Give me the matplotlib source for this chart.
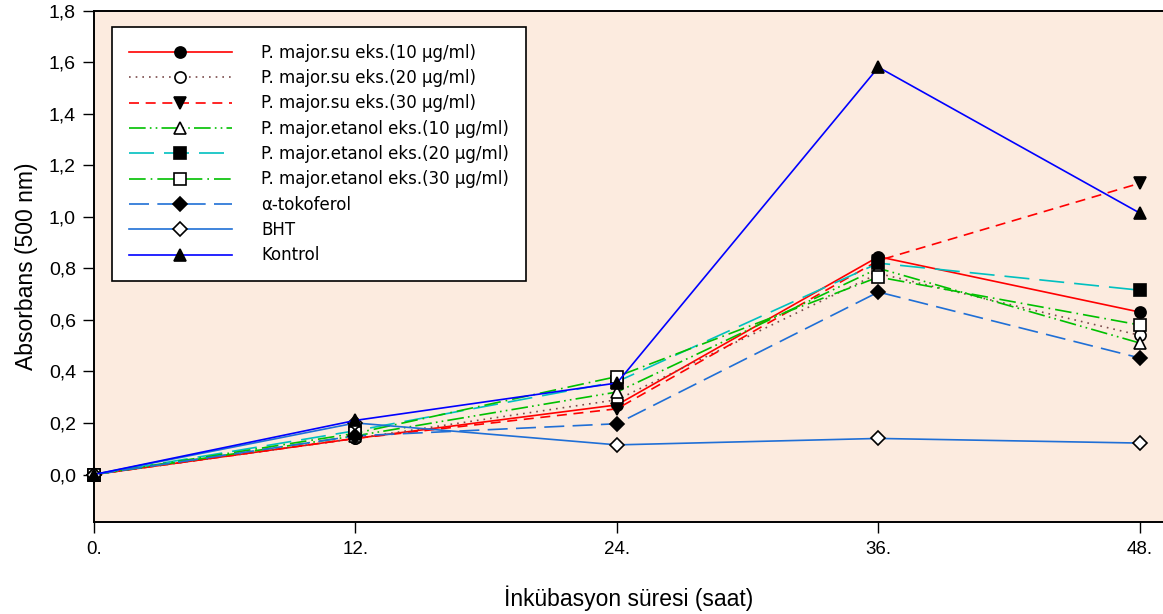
import matplotlib
matplotlib.use("Agg")
import matplotlib.pyplot as plt
from matplotlib.ticker import FuncFormatter

plt.rcParams['font.family'] = ['Liberation Sans', 'DejaVu Sans']

hours = [0, 12, 24, 36, 48]
su10 = [0.0, 0.14, 0.27, 0.845, 0.63]
su20 = [0.0, 0.14, 0.29, 0.78, 0.54]
su30 = [0.0, 0.14, 0.255, 0.83, 1.13]
et10 = [0.0, 0.15, 0.32, 0.80, 0.51]
et20 = [0.0, 0.17, 0.36, 0.82, 0.715]
et30 = [0.0, 0.16, 0.38, 0.766, 0.58]
tokoferol = [0.0, 0.15, 0.197, 0.708, 0.452]
bht = [0.0, 0.20, 0.115, 0.14, 0.122]
kontrol = [0.0, 0.21, 0.355, 1.58, 1.014]

labels = ["P. major.su eks.(10 \u03bcg/ml)", "P. major.su eks.(20 \u03bcg/ml)",
          "P. major.su eks.(30 \u03bcg/ml)", "P. major.etanol eks.(10 \u03bcg/ml)",
          "P. major.etanol eks.(20 \u03bcg/ml)", "P. major.etanol eks.(30 \u03bcg/ml)",
          "\u03b1-tokoferol", "BHT", "Kontrol"]
xticks = [0, 12, 24, 36, 48]
xticklabels = ["0.", "12.", "24.", "36.", "48."]
yticks = [0.0, 0.2, 0.4, 0.6, 0.8, 1.0, 1.2, 1.4, 1.6, 1.8]

series = [su10, su20, su30, et10, et20, et30, tokoferol, bht, kontrol]
styles = [
    dict(color='#ff0000', ls='-', marker='o', mfc='black'),
    dict(color='#7a4a4a', ls=(0, (1, 3)), marker='o', mfc='white'),
    dict(color='#ff0000', ls=(0, (6, 4)), marker='v', mfc='black'),
    dict(color='#00c000', ls=(0, (10, 2.5, 1, 2.5, 1, 2.5)), marker='^', mfc='white'),
    dict(color='#00c0c0', ls=(0, (15, 6)), marker='s', mfc='black'),
    dict(color='#00c000', ls=(0, (10, 3, 1, 3)), marker='s', mfc='white'),
    dict(color='#1f6fd6', ls=(0, (12, 5)), marker='D', mfc='black'),
    dict(color='#1f6fd6', ls='-', marker='D', mfc='white'),
    dict(color='#0000ff', ls='-', marker='^', mfc='black'),
]

fig = plt.figure(figsize=(11.63, 6.14), dpi=100)
ax = fig.add_axes([94/1163, 1 - 521.7/614, 1 - 94/1163, (521.7 - 10.5)/614])
ax.set_facecolor('#fcebdf')

for ys, st, lab in zip(series, styles, labels):
    ms = 7 if st['marker'] == 'D' else 8
    ax.plot(hours, ys, color=st['color'], linestyle=st['ls'], lw=1.2,
            marker=st['marker'], markersize=ms, markerfacecolor=st['mfc'],
            markeredgecolor='black', markeredgewidth=1.2, label=lab,
            clip_on=False, zorder=3)

ax.set_xlim(0, 49.06)
ax.set_ylim(-0.183, 1.8)
ax.set_xticks(xticks)
ax.set_xticklabels(xticklabels)
ax.set_yticks(yticks)
ax.yaxis.set_major_formatter(FuncFormatter(lambda v, p: f"{v:.1f}".replace('.', ',')))
ax.tick_params(axis='both', direction='out', length=8, width=1, colors='black')
ax.tick_params(axis='y', labelsize=14, pad=5)
ax.tick_params(axis='x', labelsize=13.5, pad=6)
ax.spines['right'].set_visible(False)
for s in ['left', 'bottom', 'top']:
    ax.spines[s].set_linewidth(1.4)

ax.set_xlabel("\u0130nk\u00fcbasyon s\u00fcresi (saat)", fontsize=16.5, labelpad=20)
ax.set_ylabel("Absorbans (500 nm)", fontsize=16.5, labelpad=8)

leg = ax.legend(loc='upper left', bbox_to_anchor=(0.0168, 0.9677), borderaxespad=0,
                prop={'family': ['DejaVu Sans'], 'size': 12},
                handlelength=6.2, handletextpad=1.75, labelspacing=0.44,
                fancybox=False, framealpha=1, edgecolor='black', borderpad=1.0)
leg.get_frame().set_linewidth(1.2)
leg.get_frame().set_facecolor('white')

fig.savefig("out.png", dpi=100)
